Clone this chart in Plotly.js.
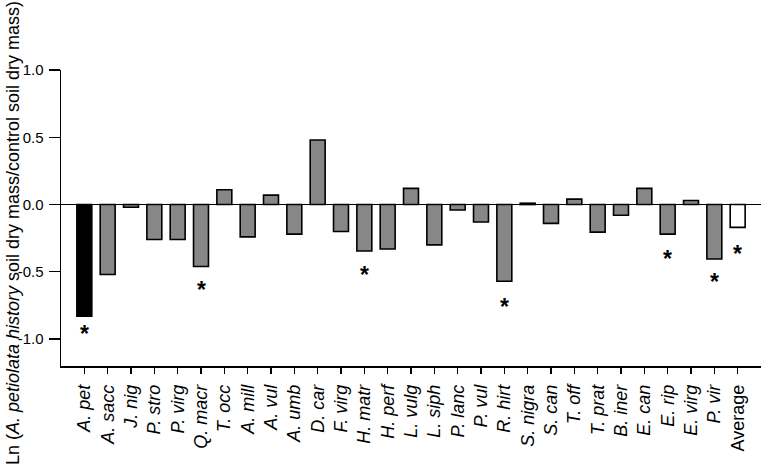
<!DOCTYPE html>
<html>
<head>
<meta charset="utf-8">
<script src="https://cdn.plot.ly/plotly-3.0.1.min.js"></script>
<style>html,body{margin:0;padding:0;background:#fff;}#chart{width:762px;height:466px;}</style>
</head>
<body>
<div id="chart"></div>
<script>
const species = ["A. pet","A. sacc","J. nig","P. stro","P. virg","Q. macr","T. occ","A. mill","A. vul","A. umb","D. car","F. virg","H. matr","H. perf","L. vulg","L. siph","P. lanc","P. vul","R. hirt","S. nigra","S. can","T. off","T. prat","B. iner","E. can","E. rip","E. virg","P. vir","Average"];
const italicLabel = [true,true,true,true,true,true,true,true,true,true,true,true,true,true,true,true,true,true,true,true,true,true,true,true,true,true,true,true,false];
const lnRatio = [-0.83,-0.52,-0.02,-0.26,-0.26,-0.46,0.11,-0.24,0.07,-0.22,0.48,-0.20,-0.345,-0.33,0.12,-0.30,-0.04,-0.13,-0.57,0.01,-0.14,0.04,-0.205,-0.08,0.12,-0.22,0.03,-0.405,-0.17];
const barColors = ["#000000","#878787","#878787","#878787","#878787","#878787","#878787","#878787","#878787","#878787","#878787","#878787","#878787","#878787","#878787","#878787","#878787","#878787","#878787","#878787","#878787","#878787","#878787","#878787","#878787","#878787","#878787","#878787","#ffffff"];
const starSpecies = ["A. pet","Q. macr","H. matr","R. hirt","E. rip","P. vir","Average"];
const starY = [-0.92,-0.59,-0.48,-0.72,-0.36,-0.53,-0.325];
const yTickVals = [-1.0,-0.5,0.0,0.5,1.0];
const yTickText = ["-1.0","-0.5","0.0","0.5","1.0"];

const FONT = "Arial, 'Liberation Sans', sans-serif";
const ticktext = species.map((s,i)=> italicLabel[i] ? "<i>"+s+"</i>" : s);

const traces = [
  {
    type: "bar",
    x: species,
    y: lnRatio,
    marker: {color: barColors, line: {color: "#000", width: 1.6}},
    hoverinfo: "x+y"
  }
];

const starAnnotations = starSpecies.map((s,i)=>({
  text: "<b>*</b>",
  xref: "x", yref: "y",
  x: s, y: starY[i],
  xanchor: "center", yanchor: "middle",
  yshift: -6,
  showarrow: false,
  font: {family: FONT, size: 23, color: "#000"}
}));

const layout = {
  width: 762, height: 466,
  margin: {l: 61, r: 1, t: 70, b: 100, pad: 0},
  paper_bgcolor: "#fff", plot_bgcolor: "#fff",
  showlegend: false,
  bargap: 0.36,
  font: {family: FONT, size: 17, color: "#000"},
  xaxis: {
    type: "category",
    categoryorder: "array",
    categoryarray: species,
    range: [-1, 29],
    tickmode: "array",
    tickvals: species,
    ticktext: ticktext,
    tickangle: -90,
    tickfont: {family: FONT, size: 18, color: "#000"},
    ticks: "outside", ticklen: 6, tickwidth: 1.2, tickcolor: "#000",
    ticklabelstandoff: 4,
    showline: true, linecolor: "#000", linewidth: 1.5,
    showgrid: false, zeroline: false,
    mirror: false
  },
  yaxis: {
    range: [-1.2, 1.0],
    tickmode: "array",
    tickvals: yTickVals,
    ticktext: yTickText,
    tickfont: {family: FONT, size: 15, color: "#000"},
    ticks: "outside", ticklen: 11, tickwidth: 1.2, tickcolor: "#000",
    ticklabelstandoff: 2,
    showline: true, linecolor: "#000", linewidth: 1.5,
    showgrid: false,
    zeroline: true, zerolinecolor: "#000", zerolinewidth: 1.5
  },
  annotations: [{
    text: "Ln (<i>A. petiolata history</i> soil dry mass/control soil dry mass)",
    xref: "paper", yref: "paper",
    x: -0.0686, y: 0.449,
    xanchor: "center", yanchor: "middle",
    textangle: -90,
    showarrow: false,
    font: {family: FONT, size: 18, color: "#000"}
  }].concat(starAnnotations)
};

Plotly.newPlot("chart", traces, layout, {displayModeBar: false, staticPlot: true});
</script>
</body>
</html>
